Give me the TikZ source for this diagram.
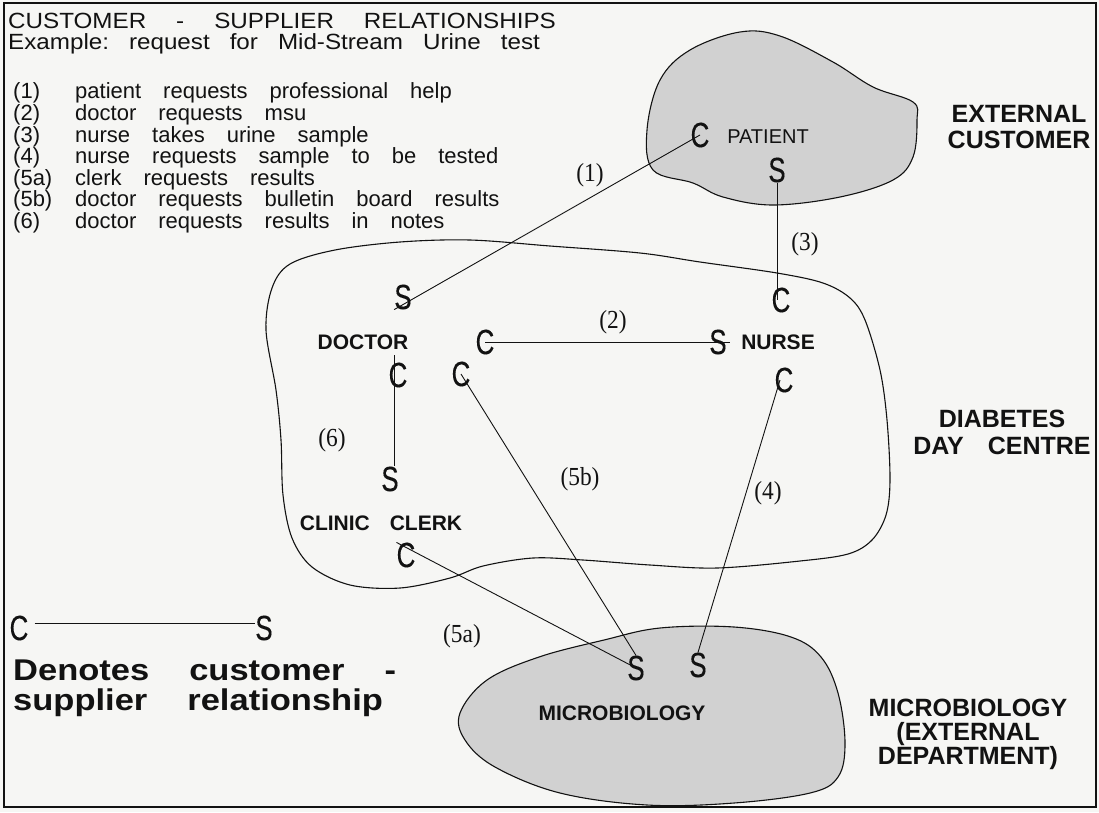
\documentclass[tikz,border=0pt]{standalone}
\usepackage{fontspec}
\newfontfamily\HeadSans{Liberation Sans}[FakeStretch=1.1]
\newfontfamily\ListSans{Liberation Sans}
\newfontfamily\LabelSans{Liberation Sans}
\newfontfamily\KeySans{Liberation Sans}[FakeStretch=1.15]
\newfontfamily\RoleLetter{Liberation Sans}[FakeStretch=0.74, FakeBold=0.2]
\newfontfamily\StepNum{Liberation Serif}[FakeStretch=0.9]
\definecolor{paper}{RGB}{246,246,244}
\definecolor{blobgray}{RGB}{209,209,209}
\definecolor{ink}{RGB}{18,18,18}

\begin{document}
\begin{tikzpicture}[x=1pt,y=-1pt,
  every node/.style={inner sep=0pt, text=ink},
  wordgap/.style={execute at begin node={\spaceskip=#1\relax}},
  head/.style={anchor=base west, font={\HeadSans\fontsize{22}{22}\selectfont\frenchspacing}},
  listnum/.style={anchor=base west, font={\ListSans\fontsize{22}{22}\selectfont}},
  listrow/.style={anchor=base west, font={\ListSans\fontsize{22}{22}\selectfont}, wordgap=22pt},
  letter/.style={font={\RoleLetter\fontsize{35}{35}\selectfont}},
  role/.style={anchor=base, font={\LabelSans\bfseries\fontsize{21}{21}\selectfont}},
  side/.style={anchor=base, font={\LabelSans\bfseries\fontsize{25}{25}\selectfont}},
  stepnum/.style={font={\StepNum\fontsize{26}{26}\selectfont}},
  keytext/.style={anchor=base west, font={\KeySans\bfseries\fontsize{30}{30}\selectfont}, wordgap=40pt},
  link/.style={draw=ink, line width=0.9pt},
  outline/.style={draw=ink, line width=1.1pt},
  blob/.style={outline, fill=blobgray}
]
% page and frame
\fill[paper] (0,0) rectangle (1099,812);
\draw[ink, line width=2.2pt] (4,3) rectangle (1096,807);

% areas: patient, diabetes day centre, microbiology
\draw[blob] plot[smooth cycle, tension=0.6] coordinates {
  (647,130) (660,80) (690,50) (740,32) (780,36) (833,62) (873,87)
  (913,102) (917,120) (913,157) (893,180) (840,197) (773,205)
  (723,197) (693,183) (653,170)};
\draw[outline] plot[smooth cycle, tension=0.55] coordinates {
  (266,330) (272,288) (290,264) (335,250) (400,242) (470,240) (550,246)
  (640,253) (700,262) (777,273) (823,283) (850,298) (865,320) (880,370)
  (887,420) (890,480) (886,515) (872,540) (848,554) (800,561) (717,568)
  (650,565) (583,560) (533,558) (483,566) (450,578) (400,588) (350,585)
  (312,567) (292,538) (283,495) (281,440) (276,390)};
\draw[blob] plot[smooth cycle, tension=0.6] coordinates {
  (460,713) (487,680) (539,657) (604,640) (660,628) (734,627) (791,637)
  (821,657) (838,693) (845,743) (838,777) (810,793) (734,803) (647,805)
  (560,793) (495,767) (465,740)};

% heading and list of steps
\node[head, wordgap=30pt] (title) at (8,28) {CUSTOMER - SUPPLIER RELATIONSHIPS};
\node[head, wordgap=20pt] (example) at (8,49) {Example: request for Mid-Stream Urine test};
\node[listnum] (n1) at (13,98.8) {(1)};
\node[listrow] (r1) at (75,98.8) {patient requests professional help};
\node[listnum] (n2) at (13,120.4) {(2)};
\node[listrow] (r2) at (75,120.4) {doctor requests msu};
\node[listnum] (n3) at (13,142) {(3)};
\node[listrow] (r3) at (75,142) {nurse takes urine sample};
\node[listnum] (n4) at (13,163.6) {(4)};
\node[listrow] (r4) at (75,163.6) {nurse requests sample to be tested};
\node[listnum] (n5a) at (13,185.2) {(5a)};
\node[listrow] (r5a) at (75,185.2) {clerk requests results};
\node[listnum] (n5b) at (13,206.8) {(5b)};
\node[listrow] (r5b) at (75,206.8) {doctor requests bulletin board results};
\node[listnum] (n6) at (13,228.4) {(6)};
\node[listrow] (r6) at (75,228.4) {doctor requests results in notes};

% role names
\node[anchor=base, font={\LabelSans\fontsize{20}{20}\selectfont}] (patient) at (768,143) {PATIENT};
\node[role] (doctor) at (363,349) {DOCTOR};
\node[role] (nurse) at (778,349) {NURSE};
\node[role, wordgap=20pt] (clerk) at (381,530) {CLINIC CLERK};
\node[role] (microIn) at (622,720) {MICROBIOLOGY};

% area names
\node[side] (ext1) at (1019,122) {EXTERNAL};
\node[side] (ext2) at (1019,148) {CUSTOMER};
\node[side] (dia1) at (1002,427) {DIABETES};
\node[side, wordgap=24pt] (dia2) at (1002,454) {DAY CENTRE};
\node[side] (mic1) at (968,716) {MICROBIOLOGY};
\node[side] (mic2) at (968,740) {(EXTERNAL};
\node[side] (mic3) at (968,764) {DEPARTMENT)};

% customer (C) and supplier (S) ends
\node[letter] (patC) at (700,135) {C};
\node[letter] (patS) at (777,170) {S};
\node[letter] (docS) at (403,297) {S};
\node[letter] (docC2) at (485,342) {C};
\node[letter] (nurS) at (718,342) {S};
\node[letter] (nurC3) at (781,300) {C};
\node[letter] (nurC4) at (784,380) {C};
\node[letter] (docC6) at (398,375) {C};
\node[letter] (docC5) at (461,374) {C};
\node[letter] (clkS) at (390,479) {S};
\node[letter] (clkC) at (406,555) {C};
\node[letter] (micS1) at (636,668) {S};
\node[letter] (micS2) at (698,665) {S};
\node[letter] (keyC) at (19,628) {C};
\node[letter] (keyS) at (264,628) {S};

% relationships
\draw[link] (docS.south west) -- (patC.center);
\draw[link] (patS.south) -- (patS.south |- nurC3.center);
\draw[link] (docC2.center) -- ([xshift=3pt]nurS.east);
\draw[link] ([xshift=-4pt,yshift=7pt]docC6.north) -- ([xshift=-4pt]docC6.north |- clkS.north);
\draw[link] (docC5.center) -- (micS1.north);
\draw[link] (clkC.north west) -- (micS1.center);
\draw[link] ([xshift=-4pt]nurC4.center) -- (micS2.north);
\draw[link] ([xshift=6pt,yshift=5pt]keyC.east) -- ([yshift=5pt]keyS.west);

% step numbers
\node[stepnum] (s1) at (590,175) {(1)};
\node[stepnum] (s2) at (613,322) {(2)};
\node[stepnum] (s3) at (805,244) {(3)};
\node[stepnum] (s4) at (768,493) {(4)};
\node[stepnum] (s5a) at (462,636) {(5a)};
\node[stepnum] (s5b) at (580,479) {(5b)};
\node[stepnum] (s6) at (332,440) {(6)};

% key
\node[keytext] (key1) at (13,680) {Denotes customer -};
\node[keytext] (key2) at (13,710) {supplier relationship};
\end{tikzpicture}
\end{document}
